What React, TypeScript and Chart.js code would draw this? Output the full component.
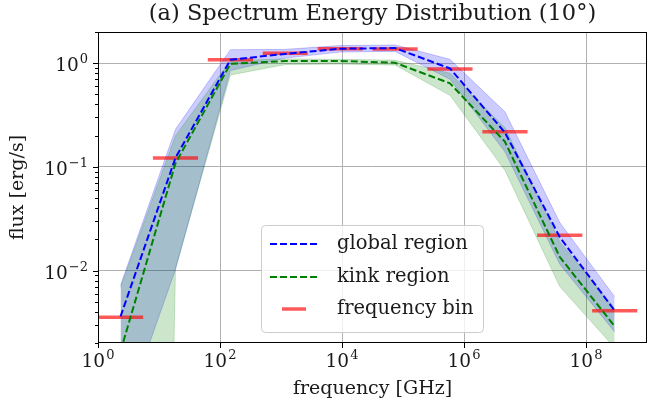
import React, { useEffect, useRef } from "react";
import { Chart, registerables } from "chart.js";
Chart.register(...registerables);

// ---- data (frequency in GHz, flux in erg/s) ----
const binCenter = [2.34, 18.6, 148, 1175, 9330, 74100, 589000, 4.68e6, 3.72e7, 2.95e8];
const binLo = [1.0, 7.94, 63.1, 501, 3980, 31600, 251000, 2.0e6, 1.58e7, 1.26e8];
const binHi = [5.5, 43.7, 347, 2750, 21900, 174000, 1.38e6, 1.1e7, 8.71e7, 6.92e8];
const binFlux = [0.00355, 0.122, 1.08, 1.25, 1.38, 1.37, 0.88, 0.218, 0.0219, 0.0041];

const globalMean = [0.0036, 0.122, 1.08, 1.23, 1.38, 1.4, 0.89, 0.215, 0.021, 0.0041];
const globalUpper = [0.0072, 0.23, 1.35, 1.36, 1.48, 1.5, 1.09, 0.34, 0.029, 0.0056];
const globalLower = [0.00032, 0.0102, 0.85, 1.12, 1.28, 1.3, 0.7, 0.14, 0.0115, 0.00256];

const kinkMean = [0.00166, 0.108, 0.985, 1.05, 1.05, 1.01, 0.64, 0.175, 0.0135, 0.0029];
const kinkUpper = [0.0069, 0.2, 1.06, 1.1, 1.09, 1.07, 0.8, 0.24, 0.019, 0.0043];
const kinkLower = [1e-30, 0.0105, 0.77, 0.97, 0.98, 0.96, 0.49, 0.093, 0.007, 0.0018];

const xTicks = [1, 1e2, 1e4, 1e6, 1e8];
const xTickExp = ["0", "2", "4", "6", "8"];
const yTicks = [0.01, 0.1, 1];
const yTickExp = ["\u22122", "\u22121", "0"];

const titleText = "(a) Spectrum Energy Distribution (10\u00B0)";
const xLabel = "frequency [GHz]";
const yLabel = "flux [erg/s]";

const FONT = "'DejaVu Serif', serif";

const pts = (xs: number[], ys: number[]) => xs.map((x, i) => ({ x, y: ys[i] }));

function binPoints() {
  const out: any[] = [];
  for (let i = 0; i < binFlux.length; i++) {
    out.push({ x: binLo[i], y: binFlux[i] });
    out.push({ x: binHi[i], y: binFlux[i] });
    out.push({ x: binHi[i], y: null });
  }
  return out;
}

function drawPow(ctx: CanvasRenderingContext2D, exp: string, x: number, baseY: number, align: "center" | "right") {
  const bs = 18.5, es = 13;
  ctx.font = `${bs}px ${FONT}`;
  const wb = ctx.measureText("10").width;
  ctx.font = `${es}px ${FONT}`;
  const we = ctx.measureText(exp).width;
  const total = wb + we + 1;
  const x0 = align === "center" ? x - total / 2 : x - total;
  ctx.textAlign = "left";
  ctx.textBaseline = "alphabetic";
  ctx.font = `${bs}px ${FONT}`;
  ctx.fillText("10", x0, baseY);
  ctx.font = `${es}px ${FONT}`;
  ctx.fillText(exp, x0 + wb + 1, baseY - 8);
}

const decorPlugin = {
  id: "decor",
  afterDraw(chart: any) {
    const ctx: CanvasRenderingContext2D = chart.ctx;
    const { left, right, top, bottom } = chart.chartArea;
    const xs = chart.scales.x, ys = chart.scales.y;
    ctx.save();
    ctx.fillStyle = "#1a1a1a";
    ctx.strokeStyle = "#000";
    // frame
    ctx.lineWidth = 1;
    ctx.strokeRect(left + 0.5, top + 0.5, right - left - 1, bottom - top - 1);
    // y ticks
    ctx.beginPath();
    for (let k = -3; k <= 0; k++) {
      for (let m = 2; m <= 9; m++) {
        const v = m * Math.pow(10, k);
        if (v < ys.min || v > ys.max) continue;
        const py = Math.round(ys.getPixelForValue(v)) + 0.5;
        ctx.moveTo(left - 3, py);
        ctx.lineTo(left, py);
      }
    }
    yTicks.forEach((v) => {
      const py = Math.round(ys.getPixelForValue(v)) + 0.5;
      ctx.moveTo(left - 5, py);
      ctx.lineTo(left, py);
    });
    xTicks.forEach((v) => {
      const px = Math.round(xs.getPixelForValue(v)) + 0.5;
      ctx.moveTo(px, bottom);
      ctx.lineTo(px, bottom + 5);
    });
    ctx.stroke();
    // tick labels
    yTicks.forEach((v, i) => {
      const py = ys.getPixelForValue(v);
      drawPow(ctx, yTickExp[i], left - 10, py + 8, "right");
    });
    xTicks.forEach((v, i) => {
      const px = xs.getPixelForValue(v);
      drawPow(ctx, xTickExp[i], px, bottom + 24, "center");
    });
    // axis labels
    ctx.font = `19px ${FONT}`;
    ctx.textAlign = "center";
    ctx.textBaseline = "middle";
    ctx.fillText(xLabel, (left + right) / 2, 389);
    ctx.save();
    ctx.translate(18, (top + bottom) / 2);
    ctx.rotate(-Math.PI / 2);
    ctx.fillText(yLabel, 0, 0);
    ctx.restore();
    // title
    ctx.font = `22.5px ${FONT}`;
    ctx.fillText(titleText, (left + right) / 2, 14);
    // legend
    const lx = 261.5, ly = 225.5, lw = 222, lh = 107;
    ctx.beginPath();
    (ctx as any).roundRect(lx, ly, lw, lh, 4);
    ctx.fillStyle = "rgba(255,255,255,0.8)";
    ctx.fill();
    ctx.strokeStyle = "#cccccc";
    ctx.lineWidth = 1;
    ctx.stroke();
    const ds = chart.data.datasets;
    const rows = [244, 277, 309];
    for (let i = 0; i < 3; i++) {
      const d = ds[i];
      const y = rows[i];
      ctx.save();
      ctx.strokeStyle = d.borderColor;
      ctx.lineWidth = d.borderWidth;
      ctx.setLineDash(d.borderDash || []);
      ctx.beginPath();
      if (i < 2) {
        ctx.moveTo(270, y);
        ctx.lineTo(317, y);
      } else {
        ctx.moveTo(282, y);
        ctx.lineTo(306, y);
      }
      ctx.stroke();
      ctx.restore();
      ctx.fillStyle = "#1a1a1a";
      ctx.font = `19.5px ${FONT}`;
      ctx.textAlign = "left";
      ctx.textBaseline = "middle";
      ctx.fillText(d.label, 337, y);
    }
    ctx.restore();
  },
};

export default function App() {
  const ref = useRef<HTMLCanvasElement>(null);
  useEffect(() => {
    document.body.style.margin = "0";
    const blueFill = "rgba(0,0,255,0.2)";
    const greenFill = "rgba(0,128,0,0.2)";
    const chart = new Chart(ref.current!, {
      type: "line",
      data: {
        datasets: [
          {
            label: "global region",
            data: pts(binCenter, globalMean),
            borderColor: "#0000ff",
            borderWidth: 2,
            borderDash: [7, 3],
            fill: false,
          },
          {
            label: "kink region",
            data: pts(binCenter, kinkMean),
            borderColor: "#008000",
            borderWidth: 2,
            borderDash: [7, 3],
            fill: false,
          },
          {
            label: "frequency bin",
            data: binPoints(),
            borderColor: "rgba(255,0,0,0.65)",
            borderWidth: 3.5,
            borderCapStyle: "butt",
            spanGaps: false,
            fill: false,
          },
          {
            label: "kink upper",
            data: pts(binCenter, kinkUpper),
            borderColor: greenFill,
            borderWidth: 1,
            backgroundColor: greenFill,
            fill: "+1",
          },
          {
            label: "kink lower",
            data: pts(binCenter, kinkLower),
            borderColor: greenFill,
            borderWidth: 1,
            fill: false,
          },
          {
            label: "global upper",
            data: pts(binCenter, globalUpper),
            borderColor: blueFill,
            borderWidth: 1,
            backgroundColor: blueFill,
            fill: "+1",
          },
          {
            label: "global lower",
            data: pts(binCenter, globalLower),
            borderColor: blueFill,
            borderWidth: 1,
            fill: false,
          },
        ],
      } as any,
      options: {
        responsive: false,
        animation: false,
        devicePixelRatio: 1,
        layout: { padding: { top: 32, right: 15, left: 0, bottom: 0 } },
        elements: { point: { radius: 0, hoverRadius: 0 }, line: { tension: 0 } },
        plugins: { legend: { display: false }, title: { display: false }, tooltip: { enabled: false } },
        events: [],
        scales: {
          x: {
            type: "logarithmic",
            min: 1,
            max: 1e9,
            afterFit: (s: any) => { s.height = 65; },
            afterBuildTicks: (s: any) => { s.ticks = xTicks.map((v) => ({ value: v })); },
            ticks: { display: false },
            grid: { color: "#b0b0b0", lineWidth: 1, drawTicks: false },
            border: { display: false },
          },
          y: {
            type: "logarithmic",
            min: 0.002,
            max: 2,
            afterFit: (s: any) => { s.width = 98; },
            afterBuildTicks: (s: any) => { s.ticks = yTicks.map((v) => ({ value: v })); },
            ticks: { display: false },
            grid: { color: "#b0b0b0", lineWidth: 1, drawTicks: false },
            border: { display: false },
          },
        },
      } as any,
      plugins: [decorPlugin],
    });
    return () => chart.destroy();
  }, []);
  return (
    <div style={{ width: 662, height: 408, background: "#fff" }}>
      <canvas ref={ref} width={662} height={408} />
    </div>
  );
}
